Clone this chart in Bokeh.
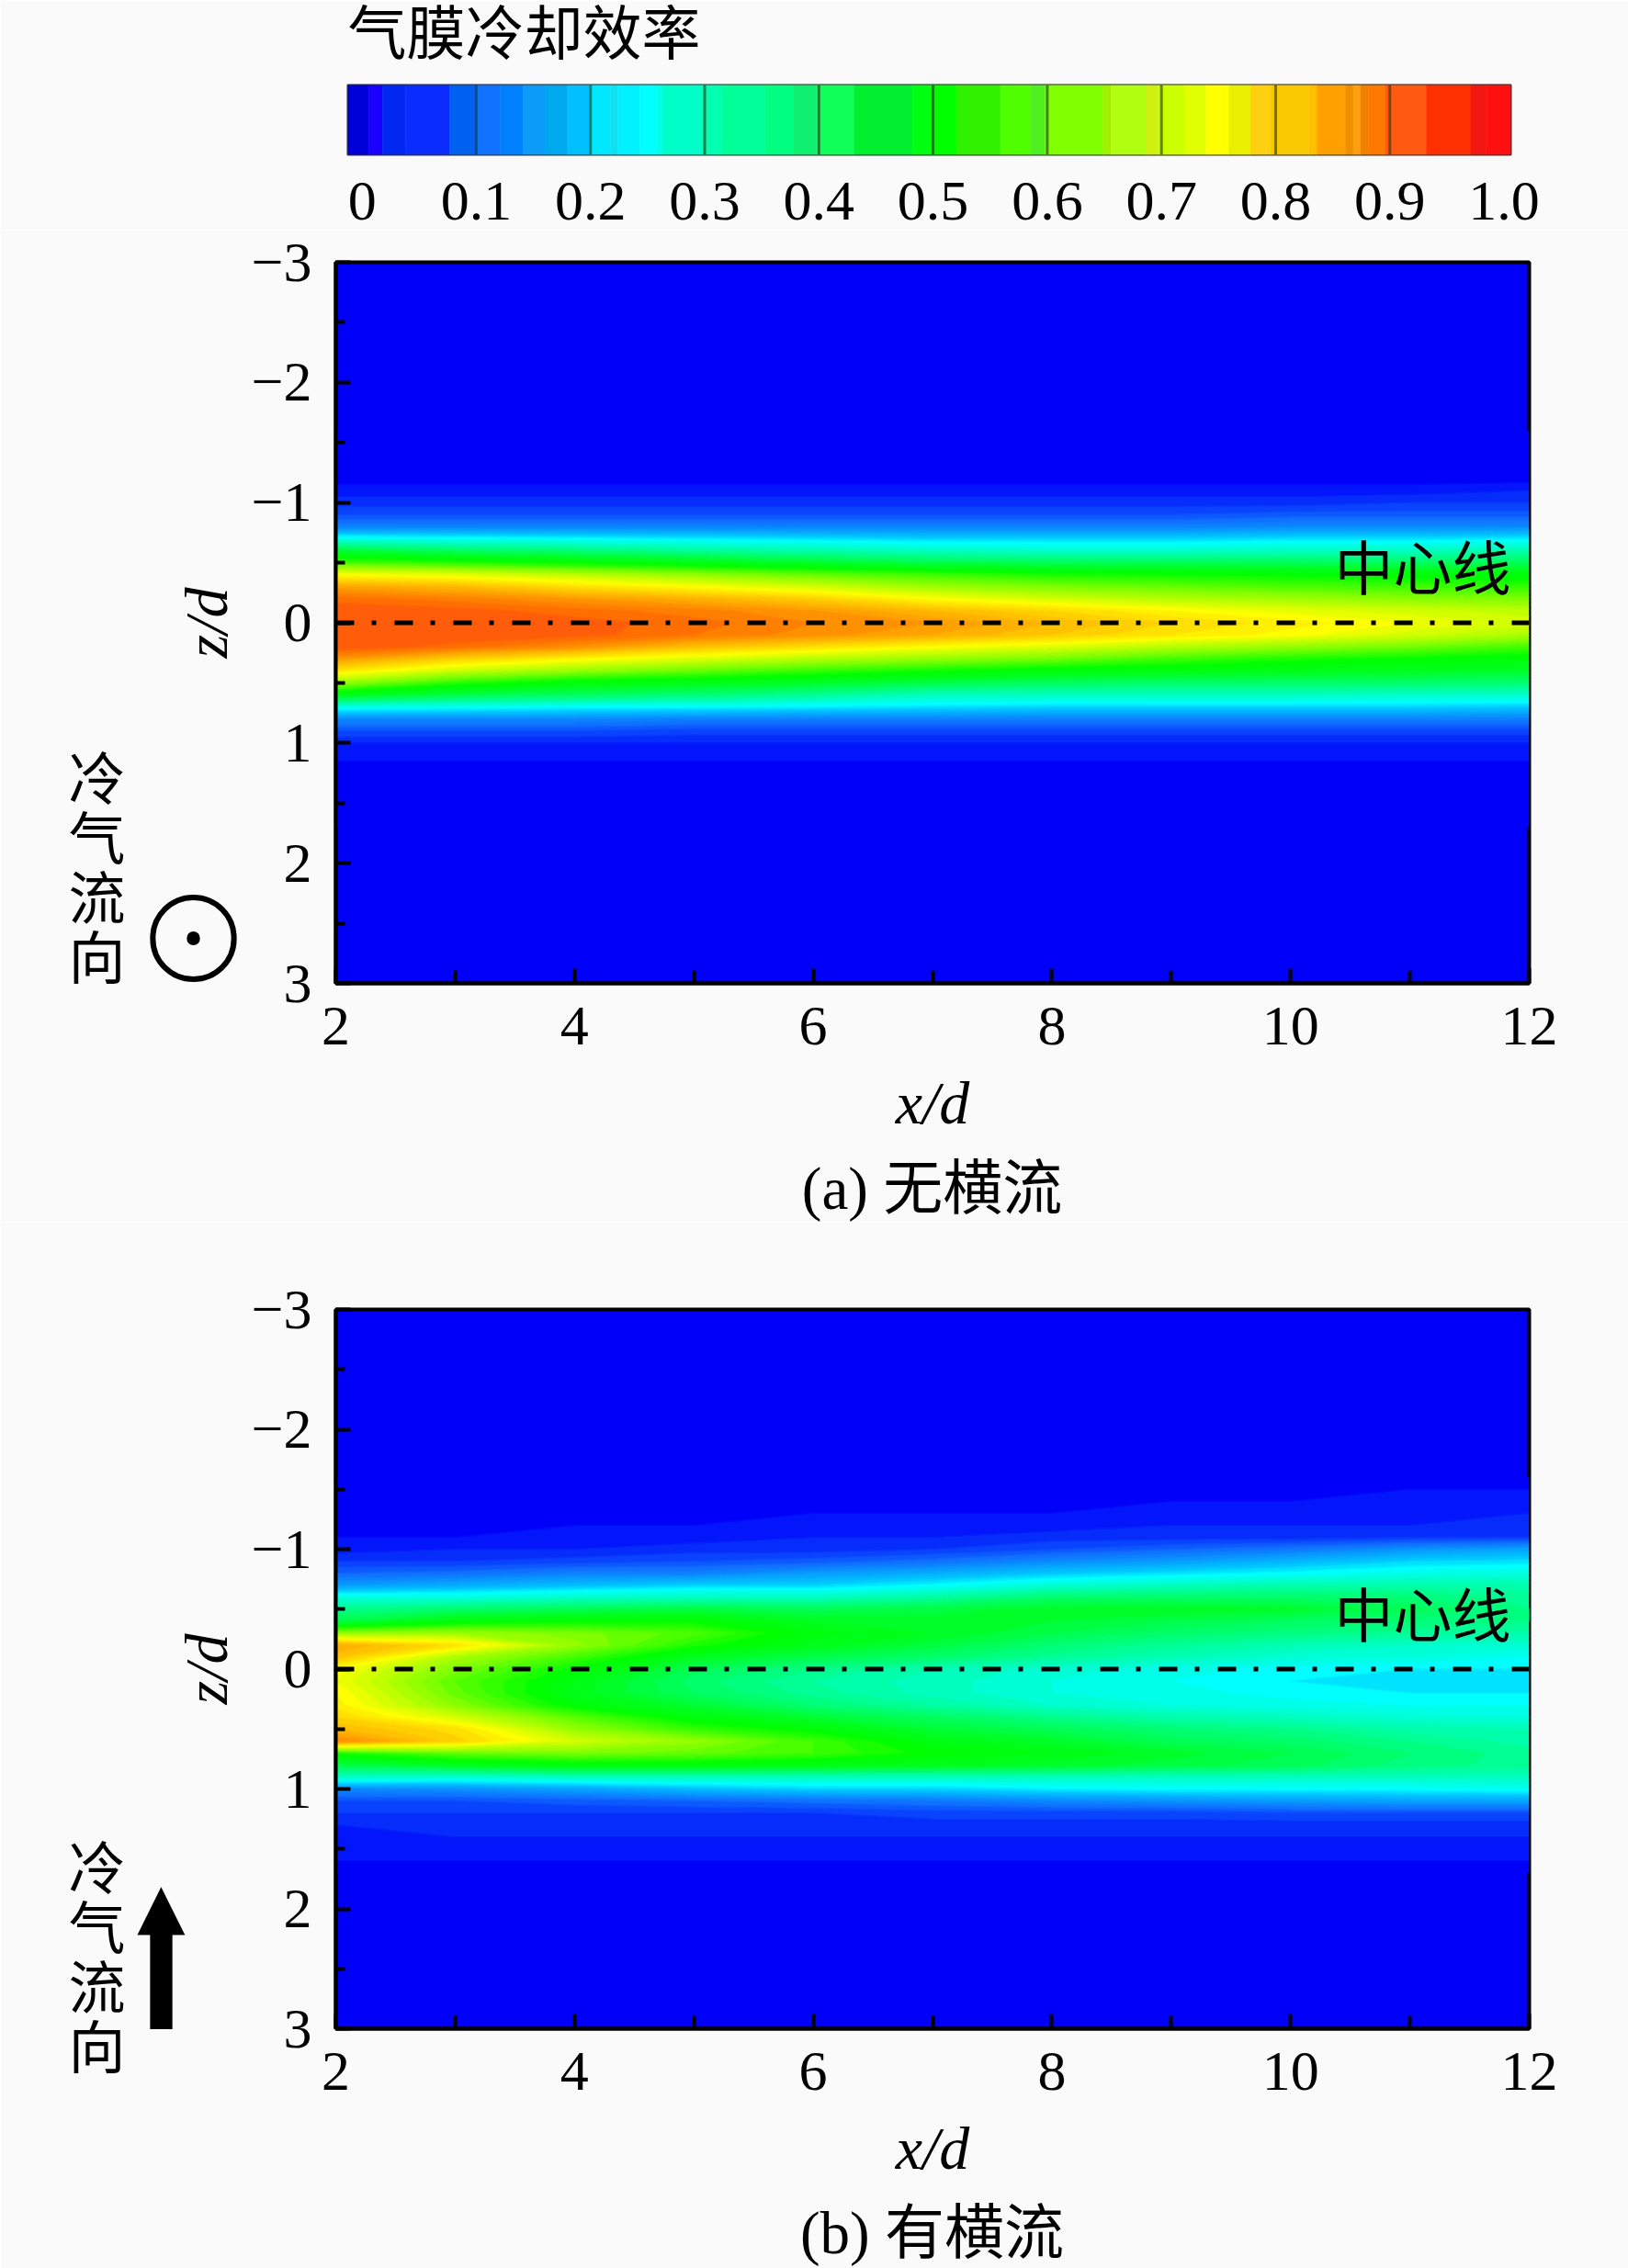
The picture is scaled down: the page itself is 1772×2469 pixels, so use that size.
import numpy as np
from bokeh.embed import file_html
from bokeh.resources import INLINE
from bokeh.layouts import column
from bokeh.models import (Range1d, FixedTicker, Label)
from bokeh.plotting import figure

BG = "#fafafa"
NUM_FONT = "Liberation Serif"
CJK_FONT = "Noto Sans CJK SC"
MIX_FONT = "Liberation Serif, 'Noto Sans CJK SC'"

# ---- colour bar -------------------------------
CB_TICKS = [0, 0.1, 0.2, 0.3, 0.4, 0.5, 0.6, 0.7, 0.8, 0.9, 1.0]
CB_LABELS = ["0", "0.1", "0.2", "0.3", "0.4", "0.5", "0.6", "0.7", "0.8", "0.9", "1.0"]
CB_SEPARATORS = [0.1, 0.2, 0.3, 0.4, 0.5, 0.6, 0.7, 0.8, 0.9]
CB_EDGES = [-0.0126, 0.0056, 0.0177, 0.0378, 0.0767, 0.1008, 0.121, 0.141, 0.16, 0.18, 0.199,
            0.2175, 0.224, 0.243, 0.258, 0.263, 0.298, 0.315, 0.353, 0.378, 0.398, 0.431,
            0.482, 0.497, 0.5205, 0.559, 0.585, 0.598, 0.649, 0.656, 0.687, 0.697, 0.72,
            0.739, 0.759, 0.778, 0.796, 0.829, 0.836, 0.861, 0.868, 0.8745, 0.881, 0.896,
            0.932, 0.971, 0.984, 1.006]
CB_COLORS = ["#0000d8", "#1a00ff", "#0028f0", "#0a2cff", "#0060f0", "#1070ff", "#0080ff", "#0a9cf8",
             "#00a8f0", "#00c0ff", "#00e8ff", "#10e0f0", "#00f0ff", "#00ffff", "#00ffe8", "#00ffc8",
             "#00ffb0", "#00ff98", "#00ff80", "#10f070", "#10ff58", "#00f030", "#00ff10", "#00ff00",
             "#30f000", "#50ff00", "#50f020", "#80ff00", "#a0f000", "#b0ff10", "#d0f010", "#ccff00",
             "#e0ff00", "#ffff00", "#e8f000", "#ffd010", "#f8c800", "#ffc000", "#ffa000", "#f09000",
             "#ffa010", "#f08000", "#ff7800", "#ff5a10", "#ff3000", "#f01810", "#ff1010"]

# ---- colour scale used by the two maps ---------------------------------
MAP_STOPS = [0, 0.1, 0.2, 0.24, 0.33, 0.45, 0.5, 0.6, 0.72, 0.83, 0.9, 0.93, 1.0]
MAP_R = [0, 16, 0, 0, 0, 0, 0, 128, 255, 255, 255, 255, 255]
MAP_G = [0, 112, 200, 255, 255, 255, 255, 255, 255, 170, 110, 85, 0]
MAP_B = [250, 255, 255, 255, 160, 30, 0, 0, 0, 0, 0, 15, 0]

# ---- film-cooling effectiveness x100 ------------------------------------
X_STATIONS = [2, 3, 4, 5, 6, 7, 8, 9, 10, 11, 12]
Z_ROWS = [-1.6, -1.5, -1.4, -1.3, -1.2, -1.1, -1.0, -0.9, -0.8, -0.7, -0.6, -0.5, -0.4, -0.3, -0.2, -0.1,
          0.0, 0.1, 0.2, 0.3, 0.4, 0.5, 0.6, 0.7, 0.8, 0.9, 1.0, 1.1, 1.2, 1.3, 1.4, 1.5, 1.6, 1.7]
ETA_NO_CROSSFLOW = [
    [0, 0, 0, 0, 0, 0, 0, 0, 0, 0, 0],
    [0, 0, 0, 0, 0, 0, 0, 0, 0, 0, 0],
    [0, 0, 0, 0, 0, 0, 0, 0, 0, 0, 0],
    [0, 0, 0, 0, 0, 0, 0, 0, 0, 0, 0],
    [0, 0, 0, 0, 0, 0, 0, 0, 0, 0, 0],
    [2, 2, 2, 2, 2, 2, 2, 2, 2, 2, 3],
    [4, 4, 4, 4, 4, 4, 4, 4, 4, 5, 5],
    [7, 7, 7, 7, 7, 7, 7, 7, 8, 8, 8],
    [12, 12, 12, 12, 12, 12, 12, 12, 13, 13, 13],
    [26, 25, 24, 23, 22, 21, 21, 21, 22, 22, 23],
    [43, 39, 37, 34, 32, 30, 29, 29, 30, 30, 32],
    [56, 53, 50, 47, 44, 41, 40, 40, 40, 39, 40],
    [72, 70, 66, 62, 58, 55, 52, 51, 50, 49, 48],
    [84, 81, 76, 72, 68, 63, 60, 58, 56, 55, 54],
    [90, 88, 85, 82, 78, 72, 68, 65, 63, 61, 60],
    [93, 92, 90, 88, 85, 81, 77, 73, 70, 68, 66],
    [93, 93, 92, 90, 87, 85, 81, 77, 74, 71, 68],
    [93, 93, 92, 89, 86, 83, 79, 75, 72, 68, 64],
    [93, 90, 86, 80, 76, 72, 69, 65, 62, 59, 55],
    [85, 78, 73, 69, 65, 62, 59, 55, 52, 50, 48],
    [75, 67, 62, 58, 54, 51, 48, 47, 46, 45, 44],
    [62, 53, 48, 46, 44, 41, 39, 38, 38, 38, 37],
    [46, 41, 39, 37, 34, 30, 30, 30, 30, 29, 29],
    [26, 25, 24, 24, 23, 22, 21, 21, 21, 21, 20],
    [13, 13, 13, 12, 12, 12, 12, 12, 12, 12, 12],
    [7, 7, 7, 6, 6, 6, 6, 6, 6, 6, 6],
    [3, 3, 3, 3, 3, 3, 3, 3, 3, 3, 3],
    [2, 2, 2, 2, 2, 2, 2, 2, 2, 2, 2],
    [0, 0, 0, 0, 0, 0, 0, 0, 0, 0, 0],
    [0, 0, 0, 0, 0, 0, 0, 0, 0, 0, 0],
    [0, 0, 0, 0, 0, 0, 0, 0, 0, 0, 0],
    [0, 0, 0, 0, 0, 0, 0, 0, 0, 0, 0],
    [0, 0, 0, 0, 0, 0, 0, 0, 0, 0, 0],
    [0, 0, 0, 0, 0, 0, 0, 0, 0, 0, 0],
]
ETA_CROSSFLOW = [
    [0, 0, 0, 0, 0, 0, 0, 0, 0, 0, 1],
    [0, 0, 0, 0, 0, 0, 0, 0, 0, 1, 1],
    [0, 0, 0, 0, 0, 0, 1, 1, 1, 2, 2],
    [0, 0, 0, 0, 1, 1, 1, 2, 2, 2, 3],
    [0, 0, 1, 1, 2, 2, 2, 3, 3, 3, 4],
    [1, 1, 2, 2, 3, 3, 4, 4, 4, 5, 5],
    [2, 3, 3, 4, 4, 5, 7, 9, 11, 14, 16],
    [5, 5, 6, 7, 8, 10, 13, 15, 18, 21, 22],
    [9, 10, 12, 12, 15, 17, 20, 22, 24, 26, 27],
    [15, 17, 19, 21, 21, 24, 28, 30, 32, 32, 32],
    [27, 27, 29, 30, 30, 33, 38, 38, 38, 37, 34],
    [35, 38, 40, 42, 40, 42, 44, 45, 44, 40, 35],
    [41, 48, 50, 50, 45, 44, 43, 41, 39, 37, 35],
    [62, 63, 60, 56, 48, 45, 41, 38, 36, 34, 32],
    [83, 76, 62, 52, 46, 42, 37, 34, 31, 29, 28],
    [80, 64, 55, 45, 41, 38, 34, 31, 28, 27, 25],
    [72, 60, 50, 40, 35, 31, 28, 26, 24, 23, 23],
    [71, 57, 47, 38, 33, 30, 27, 25, 23, 22, 22],
    [73, 58, 46, 39, 34, 30, 27, 26, 24, 23, 23],
    [74, 61, 49, 43, 37, 33, 29, 27, 26, 25, 25],
    [77, 68, 57, 48, 43, 39, 35, 32, 30, 28, 27],
    [81, 76, 62, 54, 49, 43, 40, 37, 35, 32, 31],
    [87, 78, 68, 62, 55, 47, 44, 40, 38, 35, 32],
    [52, 58, 60, 58, 55, 50, 47, 44, 41, 37, 34],
    [41, 45, 48, 48, 47, 46, 44, 42, 40, 36, 34],
    [30, 28, 30, 30, 30, 30, 30, 30, 30, 30, 30],
    [13, 14, 16, 19, 21, 21, 23, 24, 24, 24, 25],
    [7, 7, 8, 9, 10, 11, 13, 14, 15, 16, 16],
    [5, 5, 5, 5, 5, 6, 6, 6, 7, 7, 7],
    [3, 4, 4, 4, 4, 4, 4, 4, 4, 4, 4],
    [3, 3, 3, 3, 3, 3, 3, 3, 3, 3, 3],
    [2, 2, 2, 2, 2, 2, 2, 2, 2, 2, 2],
    [1, 1, 1, 1, 1, 1, 1, 1, 1, 1, 1],
    [0, 0, 0, 0, 0, 0, 0, 0, 0, 1, 1],
]
CENTERLINE_X = [2, 12]
CENTERLINE_Z = [0, 0]
X_TICKS = [2, 4, 6, 8, 10, 12]
X_MINOR = [3, 5, 7, 9, 11]
Z_TICKS = [-3, -2, -1, 0, 1, 2, 3]
Z_MINOR = [-2.5, -1.5, -0.5, 0.5, 1.5, 2.5]
Z_LABELS = {-3: "\u22123", -2: "\u22122", -1: "\u22121", 0: "0", 1: "1", 2: "2", 3: "3"}

# ---- page geometry (pixels of the page) ---------------------------------
PAGE_W = 1772
FRAME_L, FRAME_W = 365, 1299
TICK_FS = "62px"

levels = np.arange(-1, 101, 2) / 100.0


def level_colors(v):
    v = np.clip(v, 0, 1)
    return ["#%02x%02x%02x" % (int(r), int(g), int(b)) for r, g, b in zip(
        np.interp(v, MAP_STOPS, MAP_R), np.interp(v, MAP_STOPS, MAP_G), np.interp(v, MAP_STOPS, MAP_B))]


fill_palette = level_colors((levels[:-1] + levels[1:]) / 2)
line_palette = level_colors(levels)


def make_colorbar():
    fig_top, top, fh, total_h = 0, 92, 76, 250
    l, w = 378, 1266
    p = figure(width=PAGE_W, height=total_h, frame_width=w, frame_height=fh,
               x_range=Range1d(CB_EDGES[0], CB_EDGES[-1]), y_range=Range1d(0, 1),
               min_border_left=l, min_border_right=PAGE_W - l - w,
               min_border_top=top - fig_top, min_border_bottom=total_h - (top - fig_top) - fh,
               output_backend="svg", toolbar_location=None, frame_align=False,
               background_fill_color=BG, border_fill_color=BG)
    p.grid.visible = False
    p.yaxis.visible = False
    p.quad(left=CB_EDGES[:-1], right=CB_EDGES[1:], bottom=0, top=1, fill_color=CB_COLORS,
           line_color=CB_COLORS, line_width=0.5)
    p.segment(x0=CB_SEPARATORS, x1=CB_SEPARATORS, y0=0, y1=1, line_color="#204020", line_width=3, line_alpha=0.65)
    ax = p.xaxis[0]
    ax.ticker = FixedTicker(ticks=CB_TICKS)
    ax.major_label_overrides = {t: s for t, s in zip(CB_TICKS, CB_LABELS)}
    ax.major_tick_in = 0
    ax.major_tick_out = 0
    ax.minor_tick_in = 0
    ax.minor_tick_out = 0
    ax.axis_line_color = None
    ax.major_label_text_font = NUM_FONT
    ax.major_label_text_font_size = TICK_FS
    ax.major_label_text_color = "#000000"
    ax.major_label_standoff = 30
    p.outline_line_color = "#303030"
    p.outline_line_width = 2
    to_x = lambda px: CB_EDGES[0] + (px - l) / w * (CB_EDGES[-1] - CB_EDGES[0])
    to_y = lambda py: (top + fh - py) / fh
    p.add_layout(Label(x=to_x(378), y=to_y(30), text="气膜冷却效率", text_font=CJK_FONT, text_font_size="64px",
                       text_align="left", text_baseline="middle", text_color="#000000"), "above")
    return p


def make_panel(eta, fig_top, frame_top, frame_h, total_h, caption, caption_py, caption_side, vert_py, symbol):
    to_x = lambda px: 2 + (np.asarray(px, dtype=float) - FRAME_L) / FRAME_W * 10
    to_z = lambda py: -3 + (np.asarray(py, dtype=float) - frame_top) / frame_h * 6
    p = figure(width=PAGE_W, height=total_h, frame_width=FRAME_W, frame_height=frame_h,
               x_range=Range1d(2, 12), y_range=Range1d(3, -3),
               min_border_left=FRAME_L, min_border_right=PAGE_W - FRAME_L - FRAME_W,
               min_border_top=frame_top - fig_top, min_border_bottom=total_h - (frame_top - fig_top) - frame_h,
               output_backend="svg", toolbar_location=None, frame_align=False,
               background_fill_color=fill_palette[0], border_fill_color=BG)
    p.grid.visible = False
    arr = np.array(eta, dtype=float) / 100.0
    p.contour(X_STATIONS, Z_ROWS, arr, levels=levels, fill_color=fill_palette, line_color=line_palette, line_width=1.5)
    p.line(CENTERLINE_X, CENTERLINE_Z, line_color="#000000", line_width=5, line_dash="20 19 5 20")

    for ax, ticks, minor, inm in ((p.xaxis[0], X_TICKS, X_MINOR, 14), (p.yaxis[0], Z_TICKS, Z_MINOR, 10)):
        ax.ticker = FixedTicker(ticks=ticks, minor_ticks=minor)
        ax.major_tick_in = 16
        ax.major_tick_out = 0
        ax.minor_tick_in = inm
        ax.minor_tick_out = 0
        ax.major_tick_line_width = 4
        ax.minor_tick_line_width = 4
        ax.major_tick_line_color = "#000000"
        ax.minor_tick_line_color = "#000000"
        ax.axis_line_width = 4
        ax.axis_line_color = "#000000"
        ax.major_label_text_font = NUM_FONT
        ax.major_label_text_font_size = TICK_FS
        ax.major_label_text_color = "#000000"
        ax.axis_label_text_font = NUM_FONT
        ax.axis_label_text_font_style = "italic"
        ax.axis_label_text_font_size = "66px"
        ax.axis_label_text_color = "#000000"
    p.xaxis[0].axis_label = "x/d"
    p.yaxis[0].axis_label = "z/d"
    p.xaxis[0].major_label_standoff = 26
    p.xaxis[0].axis_label_standoff = 24
    p.yaxis[0].major_label_standoff = 26
    p.yaxis[0].axis_label_standoff = 10
    p.yaxis[0].major_label_overrides = Z_LABELS
    p.outline_line_color = "#000000"
    p.outline_line_width = 4

    p.add_layout(Label(x=to_x(1548), y=to_z(frame_top + (613 - 285)), text="中心线", text_font=CJK_FONT,
                       text_font_size="64px", text_align="center", text_baseline="middle", text_color="#000000"))
    p.add_layout(Label(x=to_x(1014), y=to_z(caption_py), text=caption, text_font=MIX_FONT, text_font_size="65px",
                       text_align="center", text_baseline="middle", text_color="#000000"), caption_side)
    p.add_layout(Label(x=to_x(105), y=to_z(vert_py), text="冷\n气\n流\n向", text_font=CJK_FONT, text_font_size="62px",
                       text_line_height=0.72, text_align="center", text_baseline="middle", text_color="#000000"), "left")
    if symbol == "dot":
        p.add_layout(Label(x=to_x(210), y=to_z(1021), text=" ", text_font_size="1px", padding=44, border_radius=47,
                           border_line_color="#000000", border_line_width=6, text_align="center",
                           text_baseline="middle"), "left")
        p.add_layout(Label(x=to_x(210), y=to_z(1021), text=" ", text_font_size="1px", padding=7, border_radius=8,
                           background_fill_color="#000000", text_align="center", text_baseline="middle"), "left")
    else:
        p.add_layout(Label(x=to_x(175), y=to_z(2156), text=" ", text_font_size="1px", padding=(12, 52),
                           background_fill_color="#000000", text_align="center", text_baseline="middle"), "left")
        p.add_layout(Label(x=to_x(175), y=to_z(2074), text="\u25b2", text_font="DejaVu Sans", text_font_size="68px",
                           text_color="#000000", text_align="center", text_baseline="middle"), "left")
    return p


cb = make_colorbar()
p1 = make_panel(ETA_NO_CROSSFLOW, 250, 285, 785, 1080, "(a) 无横流", 1293, "below", 941, "dot")
p2 = make_panel(ETA_CROSSFLOW, 1330, 1425, 783, 1139, "(b) 有横流", 2430, "above", 2127, "arrow")
layout = column(cb, p1, p2, spacing=0)
open("out.html", "w").write(file_html(layout, INLINE))
